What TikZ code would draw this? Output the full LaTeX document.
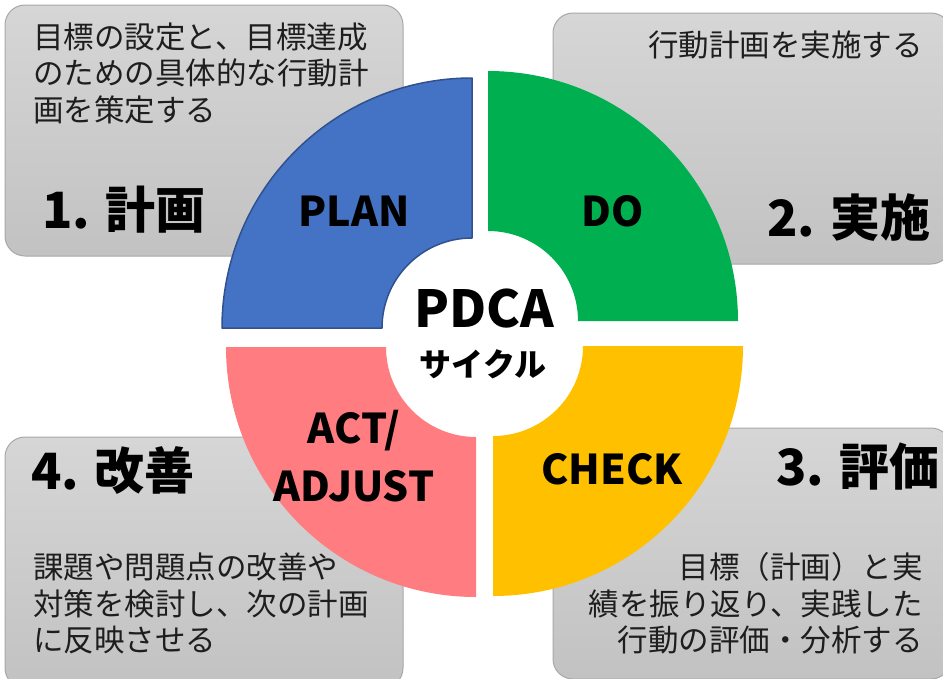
\documentclass[tikz,border=0pt]{standalone}
\usepackage{fontspec}
\setmainfont{Noto Sans CJK JP}
\usetikzlibrary{calc}
\definecolor{planblue}{HTML}{4472C4}
\definecolor{planedge}{HTML}{2F528F}
\definecolor{dogreen}{HTML}{00B050}
\definecolor{checkyellow}{HTML}{FFC000}
\definecolor{actred}{HTML}{FF7C80}
\definecolor{boxtop}{HTML}{D6D6D6}
\definecolor{boxbot}{HTML}{C2C2C2}
\definecolor{boxedge}{HTML}{A8A8A8}
\definecolor{desctext}{HTML}{1E1E1E}
\tikzset{
  infobox/.style={draw=boxedge, line width=1pt, rounded corners=20pt, top color=boxtop, bottom color=boxbot},
  desc/.style={inner sep=0pt, text=desctext, font=\fontsize{30.5}{36}\selectfont},
  bigtitle/.style={inner sep=0pt, text=black, font=\fontsize{50}{60}\selectfont\bfseries},
  phase/.style={inner sep=0pt, text=black, font=\fontsize{41}{58}\selectfont\bfseries},
}
\begin{document}
\begin{tikzpicture}[x=1pt,y=-1pt]
\useasboundingbox (0,0) rectangle (943,678);
% info boxes
\path[infobox] (5,5) rectangle (403,256);
\path[infobox] (553,13) rectangle (951,264);
\path[infobox] (553,428) rectangle (951,679);
\path[infobox] (5,437) rectangle (403,688);
% box texts
\node[desc, anchor=base west] (d1) at (33,48)
  {\begin{tabular}[t]{@{}l@{}}目標の設定と、目標達成\\のための具体的な行動計\\画を策定する\end{tabular}};
\node[bigtitle, anchor=base west] (t1) at (42,228) {1. 計画};
\node[desc, anchor=base east] (d2) at (923,56.5) {行動計画を実施する};
\node[bigtitle, anchor=base east] (t2) at (931,236) {2. 実施};
\node[bigtitle, anchor=base east] (t3) at (940,485) {3. 評価};
\node[desc, anchor=base east] (d3) at (923,578.5)
  {\begin{tabular}[t]{@{}r@{}}目標（計画）と実\\績を振り返り、実践した\\行動の評価・分析する\end{tabular}};
\node[bigtitle, anchor=base west] (t4) at (31,489) {4. 改善};
\node[desc, anchor=base west] (d4) at (33,578.5)
  {\begin{tabular}[t]{@{}l@{}}課題や問題点の改善や\\対策を検討し、次の計画\\に反映させる\end{tabular}};
% ring sectors
\coordinate (cP) at (472,328);
\coordinate (cD) at (488,321);
\coordinate (cC) at (493,346);
\coordinate (cA) at (476,347);
\filldraw[fill=planblue, draw=planedge, line width=1.5pt, line join=round]
  ($(cP)+(180:250)$) arc[start angle=180, end angle=270, radius=250]
  -- ($(cP)+(270:90)$) arc[start angle=270, end angle=180, radius=90] -- cycle;
\fill[dogreen]
  ($(cD)+(270:250)$) arc[start angle=270, end angle=360, radius=250]
  -- ($(cD)+(0:90)$) arc[start angle=360, end angle=270, radius=90] -- cycle;
\fill[checkyellow]
  ($(cC)+(0:250)$) arc[start angle=0, end angle=90, radius=250]
  -- ($(cC)+(90:90)$) arc[start angle=90, end angle=0, radius=90] -- cycle;
\fill[actred]
  ($(cA)+(90:250)$) arc[start angle=90, end angle=180, radius=250]
  -- ($(cA)+(180:90)$) arc[start angle=180, end angle=90, radius=90] -- cycle;
% phase labels
\node[phase, anchor=base] (plan) at (354,226) {PLAN};
\node[phase, anchor=base] (do) at (613,226) {DO};
\node[phase, anchor=base] (check) at (612,484) {CHECK};
\node[phase, anchor=base] (act) at (354,443)
  {\begin{tabular}[t]{@{}c@{}}ACT/\\ADJUST\end{tabular}};
% hub
\node[inner sep=0pt, anchor=base, font=\fontsize{51}{56}\selectfont\bfseries] (hub) at (484,327) {PDCA};
\node[inner sep=0pt, anchor=base, font=\fontsize{32}{40}\selectfont\bfseries] (hubsub) at (483,376) {サイクル};
\end{tikzpicture}
\end{document}
